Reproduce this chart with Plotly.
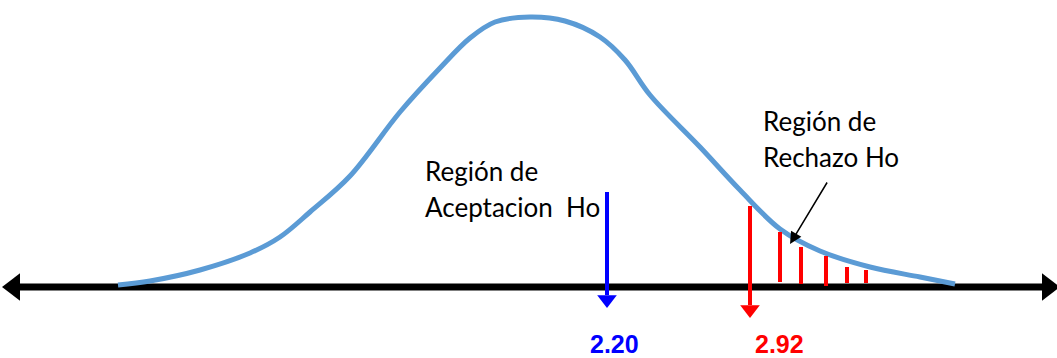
import plotly.graph_objects as go

# Canvas units: one unit per pixel, y grows downward
W, H = 1057, 358

# Distribution curve (skewed bell), sampled along the canvas
curve_x = [118, 150, 200, 250, 280, 310, 350, 400, 440, 470, 495, 530, 565,
           600, 625, 650, 700, 740, 780, 820, 870, 920, 955]
curve_y = [285, 281, 270, 253, 237, 212, 176, 112, 68, 38, 22, 17, 21,
           37, 60, 95, 147, 190, 229, 251, 267, 277, 284]

# Horizontal axis line
axis_y = 287
axis_x = [18, 1046]

# Test statistic (blue) and critical value (red)
stat_label, stat_x, stat_top, stat_tip = "2.20", 607, 192, 308
crit_label, crit_x, crit_top, crit_tip = "2.92", 750, 206, 318

# Rejection-region hatching
hatch_x = [780, 801, 826, 847, 866]
hatch_top = [232, 247, 256, 267, 270]
hatch_bottom = [282, 284, 286, 283, 283]

# Text labels
accept_lines = ["Región de", "Aceptacion\u00a0\u00a0Ho"]
reject_lines = ["Región de", "Rechazo Ho"]

fig = go.Figure()

# axis line with arrowheads on both ends
fig.add_trace(go.Scatter(x=axis_x, y=[axis_y, axis_y], mode="lines",
                         line=dict(color="black", width=7), hoverinfo="skip"))
fig.add_trace(go.Scatter(x=[axis_x[0] - 4, axis_x[1] + 2], y=[axis_y, axis_y], mode="markers",
                         marker=dict(symbol=["triangle-left", "triangle-right"], size=24,
                                     color="black"), hoverinfo="skip"))

# curve
fig.add_trace(go.Scatter(x=curve_x, y=curve_y, mode="lines",
                         line=dict(color="#5B9BD5", width=5, shape="spline", smoothing=1.0),
                         hoverinfo="skip"))

# hatching
hx, hy = [], []
for x, t, b in zip(hatch_x, hatch_top, hatch_bottom):
    hx += [x, x, None]
    hy += [t, b, None]
fig.add_trace(go.Scatter(x=hx, y=hy, mode="lines", line=dict(color="red", width=4),
                         hoverinfo="skip"))


def down_arrow(x, top, tip, color):
    head = 15
    fig.add_trace(go.Scatter(x=[x, x], y=[top, tip - head + 2], mode="lines",
                             line=dict(color=color, width=4), hoverinfo="skip"))
    fig.add_trace(go.Scatter(x=[x], y=[tip - head / 2 - 1], mode="markers",
                             marker=dict(symbol="triangle-down", size=17, color=color),
                             hoverinfo="skip"))


down_arrow(stat_x, stat_top, stat_tip, "#0000FF")
down_arrow(crit_x, crit_top, crit_tip, "#FF0000")

value_font = dict(family="Liberation Sans, Arial", size=25, color="#0000FF")
fig.add_annotation(x=stat_x + 7, y=344, text=f"<b>{stat_label}</b>", showarrow=False,
                   xanchor="center", yanchor="middle", font=value_font)
fig.add_annotation(x=crit_x + 29, y=344, text=f"<b>{crit_label}</b>", showarrow=False,
                   xanchor="center", yanchor="middle", font=dict(value_font, color="#FF0000"))

label_font = dict(family="Lato, Open Sans, sans-serif", size=26, color="black")
for i, line in enumerate(accept_lines):
    fig.add_annotation(x=423, y=171 + 36 * i, text=line, showarrow=False,
                       xanchor="left", yanchor="middle", font=label_font)
for i, line in enumerate(reject_lines):
    fig.add_annotation(x=761, y=121 + 36 * i, text=line, showarrow=False,
                       xanchor="left", yanchor="middle", font=label_font)

# pointer to the rejection region
fig.add_annotation(x=790, y=244, ax=828, ay=181, xref="x", yref="y", axref="x", ayref="y",
                   text="", showarrow=True, arrowhead=2, arrowsize=1.6, arrowwidth=1.5,
                   arrowcolor="black")

fig.update_layout(width=W, height=H, margin=dict(l=0, r=0, t=0, b=0),
                  paper_bgcolor="white", plot_bgcolor="white", showlegend=False,
                  xaxis=dict(range=[0, W], visible=False, fixedrange=True),
                  yaxis=dict(range=[H, 0], visible=False, fixedrange=True))

fig.write_html("out.html", config={"displayModeBar": False})
